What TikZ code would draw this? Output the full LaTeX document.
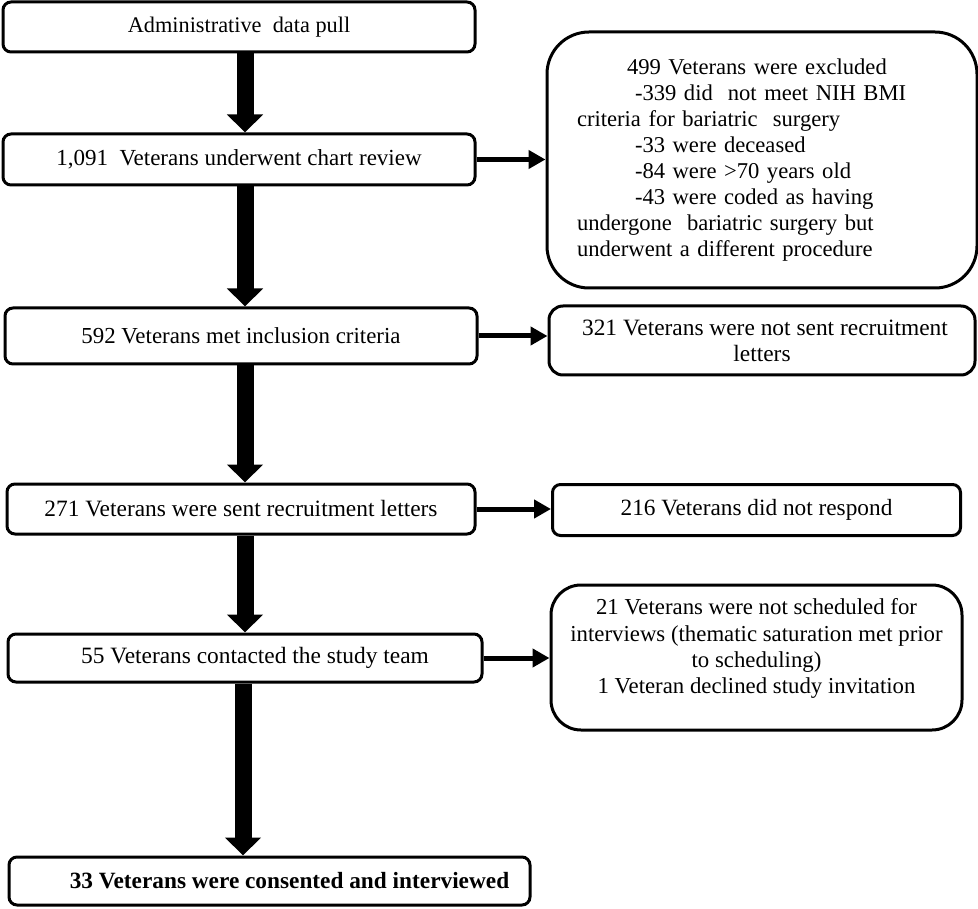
\documentclass[tikz,border=0pt]{standalone}
\usepackage{fontspec}
\setmainfont{Liberation Serif}
\usetikzlibrary{arrows.meta}
\begin{document}
\begin{tikzpicture}[x=1pt,y=-1pt,
  box/.style={draw, line width=3pt, rounded corners=8pt, inner sep=0pt},
  fs/.style={font=\fontsize{#1}{26.1}\selectfont},
  down/.style={line width=17pt, -{Triangle[length=18pt,width=35pt]}},
  side/.style={line width=5pt, -{Triangle[length=17pt,width=18pt]}}]
\useasboundingbox (0,0) rectangle (978,909);
\coordinate (spine) at (245,0);
\coordinate (spineb) at (243,0);

\node[box, fs=22.3, minimum width=472pt, minimum height=50pt] (b1) at (239,27) {Administrative\ \ data pull};
\node[box, fs=23, minimum width=472pt, minimum height=51pt] (b2) at (239,159.5) {1,091\ \ Veterans underwent chart review};
\node[box, fs=22.6, rounded corners=42pt, minimum width=430pt, minimum height=256pt, text width=370pt, align=left] (excl) at (762,160)
 {\hspace*{50pt}499 Veterans were excluded\\
  \hspace*{58pt}-339 did\ \ not meet NIH BMI\\
  criteria for bariatric\ \ surgery\\
  \hspace*{58pt}-33 were deceased\\
  \hspace*{58pt}-84 were >70 years old\\
  \hspace*{58pt}-43 were coded as having\\
  undergone\ \ bariatric surgery but\\
  underwent a different procedure};
\node[box, fs=22.9, minimum width=472pt, minimum height=56pt] (b3) at (241,336) {592 Veterans met inclusion criteria};
\node[box, fs=23.4, rounded corners=14pt, minimum width=426pt, minimum height=69pt, align=center] (r2) at (762,340.5)
 {\hspace*{6pt}321 Veterans were not sent recruitment\\letters};
\node[box, fs=23.4, minimum width=468pt, minimum height=50pt] (b4) at (241,509) {271 Veterans were sent recruitment letters};
\node[box, fs=23.3, minimum width=408pt, minimum height=51pt] (r3) at (756.5,510) {216 Veterans did not respond};
\node[box, fs=23.4, minimum width=474pt, minimum height=48pt] (b5) at (245,658) {\hspace*{20pt}55 Veterans contacted the study team};
\node[box, rounded corners=30pt, minimum width=411pt, minimum height=145pt] (r4) at (756.5,657.5) {};
\node[fs=22.8, align=center, inner sep=0pt] (r4t) at ([yshift=9pt]r4.center)
 {21 Veterans were not scheduled for\\
  interviews (thematic saturation met prior\\
  to scheduling)\\
  1 Veteran declined study invitation};
\node[box, fs=23.3, minimum width=521pt, minimum height=48pt] (b6) at (269.5,881) {\bfseries\hspace*{40pt}33 Veterans were consented and interviewed};

\draw[down] (b1.south -| spine) -- (b2.north -| spine);
\draw[down] (b2.south -| spine) -- (b3.north -| spine);
\draw[down] (b3.south -| spine) -- (b4.north -| spine);
\draw[down] (b4.south -| spine) -- (b5.north -| spine);
\draw[down] (b5.south -| spineb) -- (b6.north -| spineb);

\draw[side] (b2.east) -- (excl.west |- b2.east);
\draw[side] (b3.east) -- (r2.west |- b3.east);
\draw[side] (b4.east) -- (r3.west |- b4.east);
\draw[side] (b5.east) -- (r4.west |- b5.east);
\end{tikzpicture}
\end{document}
